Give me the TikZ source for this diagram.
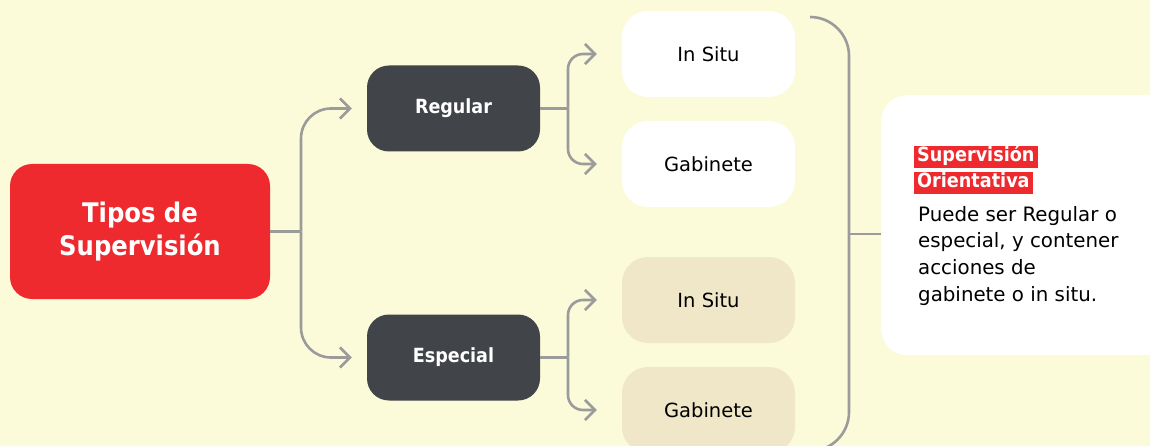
\documentclass[tikz,border=0pt]{standalone}
\usepackage{fontspec}
\setmainfont{DejaVu Sans}
\newfontfamily\condf{DejaVu Sans Condensed}
\usetikzlibrary{arrows.meta}
\definecolor{bg}{HTML}{FBFAD9}
\definecolor{myred}{HTML}{EE2A2E}
\definecolor{dark}{HTML}{414448}
\definecolor{beige}{HTML}{F0E6C8}
\definecolor{line}{HTML}{9B9B9B}
\begin{document}
\begin{tikzpicture}[x=1pt,y=-1pt,
  box/.style={rounded corners=22pt, inner sep=0pt, minimum width=173pt, minimum height=86pt},
  darkbox/.style={box, fill=dark, text=white, font=\condf\fontsize{19.5}{24}\selectfont\bfseries},
  leafbox/.style={box, rounded corners=26pt, text=black, font=\fontsize{19.5}{24}\selectfont},
  conn/.style={draw=line, line width=2.6pt},
  arr/.style={conn, -{Straight Barb[length=10pt, width=20pt, line width=2.6pt]}},
  hl/.style={fill=myred, text=white, font=\condf\fontsize{19.6}{24}\selectfont\bfseries, inner xsep=3pt, inner ysep=0pt, text height=16pt, text depth=6.5pt, anchor=west}
]
\useasboundingbox (0,0) rectangle (1150,446);
\fill[bg] (0,0) rectangle (1150,446);
\begin{scope}
\clip (0,0) rectangle (1150,446);
% nodes
\node[box, rounded corners=22pt, fill=myred, text=white, minimum width=260pt, minimum height=135pt, align=center,
  font=\condf\fontsize{27}{33}\selectfont\bfseries] (tipos) at (140,231.5) {Tipos de\\Supervisión};
\node[darkbox] (regular) at (453.5,108.5) {Regular};
\node[darkbox] (especial) at (453.5,357.5) {Especial};
\node[leafbox, fill=white] (in1) at (708.5,54) {In Situ};
\node[leafbox, fill=white] (gab1) at (708.5,164) {Gabinete};
\node[leafbox, fill=beige] (in2) at (708.5,300) {In Situ};
\node[leafbox, fill=beige] (gab2) at (708.5,410) {Gabinete};
\node[box, rounded corners=26pt, fill=white, minimum width=300pt, minimum height=260pt, anchor=north west] (orient) at (881,95) {};
\node[hl] (h1) at (914,157) {Supervisión};
\node[hl] (h2) at (914,183) {Orientativa};
\node[anchor=north west, inner sep=0pt, align=left, font=\fontsize{19.8}{26.7}\selectfont, text=black] (body) at (918,206)
  {Puede ser Regular o\\especial, y contener\\acciones de\\gabinete o in situ.};
% connectors
\coordinate (f1) at (301,231.5);
\draw[conn] (tipos.east) -- (f1);
\draw[arr, rounded corners=30pt, shorten >=15pt] (f1) |- (regular.west);
\draw[arr, rounded corners=30pt, shorten >=15pt] (f1) |- (especial.west);
\coordinate (f2) at (568,108.5);
\draw[conn] (regular.east) -- (f2);
\draw[arr, rounded corners=15pt, shorten >=25pt] (f2) |- (in1.west);
\draw[arr, rounded corners=15pt, shorten >=25pt] (f2) |- (gab1.west);
\coordinate (f3) at (568,357.5);
\draw[conn] (especial.east) -- (f3);
\draw[arr, rounded corners=15pt, shorten >=25pt] (f3) |- (in2.west);
\draw[arr, rounded corners=15pt, shorten >=25pt] (f3) |- (gab2.west);
% bracket
\coordinate (btop) at (810,17);
\coordinate (bbot) at (810,451);
\coordinate (bmid) at (849,234);
\draw[conn, rounded corners=39pt] (btop) -| (bmid) |- (bbot);
\draw[conn] (bmid) -- (bmid -| orient.west);
\end{scope}
\end{tikzpicture}
\end{document}
